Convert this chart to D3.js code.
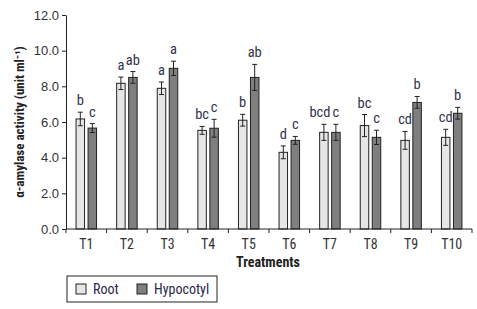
<!DOCTYPE html>
<html><head><meta charset="utf-8">
<script src="https://cdn.jsdelivr.net/npm/d3@7"></script>
<style>
body{margin:0;background:#fff;}
text{font-family:"Liberation Sans Narrow","Arial Narrow","Roboto Condensed",sans-serif;}
</style></head><body>
<svg id="c" width="477" height="309"></svg>
<script>
const categories = ["T1","T2","T3","T4","T5","T6","T7","T8","T9","T10"];
const series = ["Root","Hypocotyl"];
const rootValues = [6.17,8.17,7.89,5.53,6.1,4.3,5.42,5.8,4.97,5.14];
const rootErrors = [0.38,0.35,0.35,0.22,0.33,0.36,0.45,0.62,0.5,0.45];
const hypoValues = [5.66,8.5,9.01,5.65,8.5,4.97,5.42,5.14,7.1,6.49];
const hypoErrors = [0.25,0.33,0.4,0.5,0.73,0.22,0.45,0.4,0.33,0.33];
const rootLetters = ["b","a","a","bc","b","d","bcd","bc","cd","cd"];
const hypoLetters = ["c","ab","a","c","ab","c","c","c","b","b"];
const yTicks = [0,2,4,6,8,10,12];

const svg = d3.select("#c");
const m = {left:66, right:472, top:15, bottom:229};
const x = d3.scaleBand().domain(categories).range([m.left, m.right]).paddingInner(0).paddingOuter(0);
const y = d3.scaleLinear().domain([0,12]).range([m.bottom, m.top]);
const colors = {Root:"#e6e6e6", Hypocotyl:"#7f7f7f"};
const barW = 8.5, gap = 3.5;

const data = [];
categories.forEach((c,i)=>{
  data.push({c, s:"Root", v:rootValues[i], e:rootErrors[i], l:rootLetters[i], off:-(barW/2+gap/2)});
  data.push({c, s:"Hypocotyl", v:hypoValues[i], e:hypoErrors[i], l:hypoLetters[i], off:(barW/2+gap/2)});
});

// bars
svg.selectAll("rect.bar").data(data).join("rect")
  .attr("x", d=>x(d.c)+x.bandwidth()/2+d.off-barW/2)
  .attr("y", d=>y(d.v)).attr("width", barW).attr("height", d=>y(0)-y(d.v))
  .attr("fill", d=>colors[d.s]).attr("stroke","#222").attr("stroke-width",1);

// error bars
const eg = svg.append("g").attr("stroke","#222").attr("stroke-width",1);
data.forEach(d=>{
  const cx = x(d.c)+x.bandwidth()/2+d.off;
  eg.append("line").attr("x1",cx).attr("x2",cx).attr("y1",y(d.v-d.e)).attr("y2",y(d.v+d.e));
  eg.append("line").attr("x1",cx-2.5).attr("x2",cx+2.5).attr("y1",y(d.v+d.e)).attr("y2",y(d.v+d.e));
  eg.append("line").attr("x1",cx-2.5).attr("x2",cx+2.5).attr("y1",y(d.v-d.e)).attr("y2",y(d.v-d.e));
});

// letters
svg.selectAll("text.lab").data(data).join("text")
  .attr("x", d=>x(d.c)+x.bandwidth()/2+d.off + (d.s==="Root" && d.l.length>2 ? -4 : 0))
  .attr("y", d=>y(d.v+d.e)-7)
  .attr("text-anchor","middle").attr("font-size",14.5).attr("fill","#33334d")
  .text(d=>d.l);

// axes
const yAxis = d3.axisLeft(y).tickValues(yTicks).tickFormat(d3.format(".1f")).tickSize(4).tickSizeOuter(0);
const gy = svg.append("g").attr("transform",`translate(${m.left},0)`).call(yAxis);
gy.select(".domain").attr("stroke","#222");
gy.selectAll(".tick line").attr("stroke","#222");
gy.selectAll(".tick text").attr("font-size",13).attr("fill","#333").attr("x",-7)
  .style("font-family",'"Liberation Sans Narrow","Arial Narrow",sans-serif');

const gx = svg.append("g").attr("transform",`translate(0,${m.bottom})`);
gx.append("line").attr("x1",m.left).attr("x2",m.right).attr("stroke","#222");
const bounds = categories.map(c=>x(c)).concat([m.right]);
gx.selectAll("line.t").data(bounds).join("line")
  .attr("x1",d=>d).attr("x2",d=>d).attr("y1",0).attr("y2",4).attr("stroke","#222");
gx.selectAll("text").data(categories).join("text")
  .attr("x",d=>x(d)+x.bandwidth()/2).attr("y",20)
  .attr("text-anchor","middle").attr("font-size",14).attr("fill","#333").text(d=>d);

// axis titles
svg.append("text").attr("x",268).attr("y",267).attr("text-anchor","middle")
  .attr("font-size",14).attr("font-weight","bold").attr("fill","#222").text("Treatments");
svg.append("text").attr("transform","translate(24,122) rotate(-90)").attr("text-anchor","middle")
  .attr("font-size",13).attr("font-weight","bold").attr("fill","#222")
  .text("α-amylase activity (unit ml⁻¹)");

// legend
const lg = svg.append("g");
lg.append("rect").attr("x",67).attr("y",276).attr("width",150).attr("height",26)
  .attr("fill","#fff").attr("stroke","#222");
const lx = [76,137];
series.forEach((s,i)=>{
  lg.append("rect").attr("x",lx[i]).attr("y",284).attr("width",10).attr("height",10)
    .attr("fill",colors[s]).attr("stroke","#222");
  lg.append("text").attr("x",lx[i]+17).attr("y",294).attr("font-size",14).attr("fill","#2a2a4a").text(s);
});
</script></body></html>
